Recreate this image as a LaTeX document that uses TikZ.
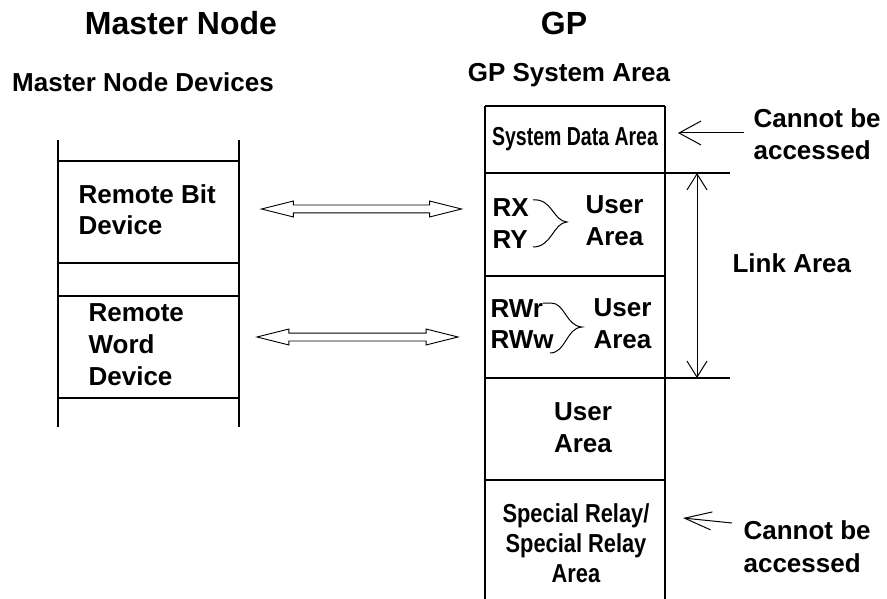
\documentclass[tikz,border=0pt]{standalone}
\usepackage{fontspec}
\setmainfont{Liberation Sans}
\newfontfamily\narrowA[FakeStretch=0.75]{Liberation Sans}
\newfontfamily\narrowB[FakeStretch=0.84]{Liberation Sans}
\usetikzlibrary{arrows.meta,shapes.arrows}

\tikzset{
  lbl/.style={inner sep=0pt,font={\fontsize{26}{32}\selectfont\bfseries}},
  head/.style={inner sep=0pt,font={\fontsize{32}{38}\selectfont\bfseries}},
  link/.style={double arrow,draw,fill=white,line width=0.9pt,inner sep=3.5pt,
    double arrow head extend=4pt,double arrow tip angle=28,minimum height=200pt},
  barb/.style={line width=1pt,-{Straight Barb[length=22pt,width=24pt]}}
}

\begin{document}
\begin{tikzpicture}[x=1pt,y=-1pt,line width=1.2pt]
\useasboundingbox (0,0) rectangle (887,599);

\node[head,anchor=base] (mhead) at (181,35) {Master Node};
\node[head,anchor=base] (gphead) at (564,35) {GP};
\node[lbl,anchor=base] (mdev) at (143,92) {Master Node Devices};
\node[lbl,anchor=base] (gpsys) at (569,82) {GP System Area};

% master node devices
\draw (58,140) -- (58,427);
\draw (239,140) -- (239,427);
\foreach \y in {161,263,296,398} \draw (58,\y) -- (239,\y);

\node[lbl,align=left,anchor=base west] (bitdev) at (78,235) {Remote Bit\\Device};
\node[lbl,align=left,anchor=base west] (worddev) at (88,385) {Remote\\Word\\Device};

\node[link] (bitlink) at (361.5,209) {};
\node[link,minimum height=201pt] (wordlink) at (357.5,337) {};

% GP system area
\draw (485,106) -- (485,599);
\draw (665,106) -- (665,599);
\foreach \y in {106,276,480} \draw (485,\y) -- (665,\y);
\draw (485,173) -- (730,173);
\draw (485,378) -- (730,378);

\node[anchor=base,inner sep=0pt,font={\narrowA\fontsize{26}{32}\selectfont\bfseries}] (sysdata) at (575,146) {System Data Area};

\node[lbl,anchor=base west] (rx) at (492,217) {RX};
\node[lbl,anchor=base west] (ry) at (492,248) {RY};
\node[lbl,align=left,anchor=base west] (userA) at (585,245) {User\\Area};
\draw[line width=1pt] (533,200) .. controls (552,198) and (553,221) .. (567,222)
  .. controls (553,223) and (552,247) .. (533,247);

\node[lbl,anchor=base west] (rwr) at (490,317) {RWr};
\node[lbl,anchor=base west] (rww) at (490,348) {RWw};
\node[lbl,align=left,anchor=base west] (userB) at (593,348) {User\\Area};
\draw[line width=1pt] (543,303) -- (551,303) .. controls (565,303) and (566,326) .. (582,327)
  .. controls (566,328) and (566,353) .. (550,353);

\node[lbl,align=center,anchor=base] (userC) at (583,452) {User\\Area};
\node[anchor=base,align=center,inner sep=0pt,font={\narrowB\fontsize{26}{30}\selectfont\bfseries}] (relay) at (576,582) {Special Relay/\\Special Relay\\Area};

% link area
\coordinate (linktop) at (697,173);
\coordinate (linkbot) at (697,378);
\draw[line width=1pt,{Straight Barb[length=16pt,width=20pt]}-{Straight Barb[length=16pt,width=20pt]}] (linktop) -- (linkbot);
\node[lbl,anchor=base west] (linkarea) at (732,272) {Link Area};

% cannot be accessed
\node[lbl,align=left,anchor=base west] (noaccA) at (753,160) {Cannot be\\accessed};
\coordinate (noaccAtail) at (744,133);
\coordinate (noaccAtip) at (678,133);
\draw[barb] (noaccAtail) -- (noaccAtip);

\node[lbl,align=left,anchor=base west,font={\fontsize{26}{33}\selectfont\bfseries}] (noaccB) at (743,572) {Cannot be\\accessed};
\coordinate (noaccBtail) at (732,523);
\coordinate (noaccBtip) at (683,518);
\draw[line width=1pt,-{Straight Barb[length=27pt,width=18pt]}] (noaccBtail) -- (noaccBtip);

\end{tikzpicture}
\end{document}
